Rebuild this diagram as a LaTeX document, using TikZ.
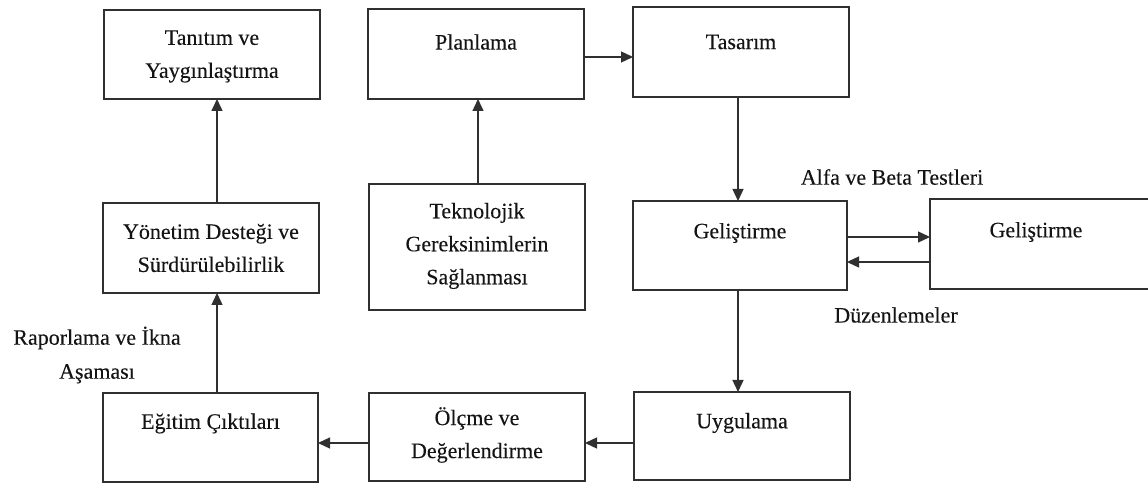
\documentclass[tikz,border=0pt]{standalone}
\usepackage{fontspec}
\setmainfont{Liberation Serif}
\newfontfamily\labelfont{Liberation Serif}[FakeBold=0.12]
\usetikzlibrary{arrows.meta}
\definecolor{ink}{HTML}{141414}
\definecolor{rule}{HTML}{303030}
\begin{document}
\begin{tikzpicture}[x=1pt,y=1pt,
  stagebox/.style={draw=rule, line width=1.4pt, rectangle, inner sep=0pt, outer sep=0pt, fill=white},
  stagetext/.style={text=ink, align=center, inner sep=0pt, font=\labelfont\fontsize{22}{33}\selectfont},
  sidetext/.style={text=ink, align=center, inner sep=0pt, font=\labelfont\fontsize{22}{34}\selectfont},
  flow/.style={draw=rule, line width=1.4pt, -{Triangle[length=12pt,width=11pt]}}]
  \clip (0,0) rectangle (1148,484);
  \fill[white] (0,0) rectangle (1148,484);

  % stage boxes
  \node[stagebox, minimum width=216pt, minimum height=89pt] (tan) at (212,429.5) {};
  \node[stagebox, minimum width=216pt, minimum height=90pt] (plan) at (476,430) {};
  \node[stagebox, minimum width=216pt, minimum height=90pt] (tas) at (741,432) {};
  \node[stagebox, minimum width=216pt, minimum height=90pt] (yon) at (211,236) {};
  \node[stagebox, minimum width=216pt, minimum height=126pt] (tek) at (477,237) {};
  \node[stagebox, minimum width=214pt, minimum height=89pt] (gel) at (740,238.5) {};
  \node[stagebox, minimum width=222pt, minimum height=90pt] (gelb) at (1041,240) {};
  \node[stagebox, minimum width=215pt, minimum height=89pt] (egi) at (210.5,46.5) {};
  \node[stagebox, minimum width=216pt, minimum height=88pt] (olc) at (477,47) {};
  \node[stagebox, minimum width=216pt, minimum height=88pt] (uyg) at (742,48) {};

  % box texts
  \node[stagetext] (tanT) at ([yshift=-2pt]tan.center) {Tanıtım ve\\Yaygınlaştırma};
  \node[stagetext] (planT) at ([yshift=12pt]plan.center) {Planlama};
  \node[stagetext] (tasT) at ([yshift=10pt]tas.center) {Tasarım};
  \node[stagetext] (yonT) at ([yshift=0pt]yon.center) {Yönetim Desteği ve\\Sürdürülebilirlik};
  \node[stagetext] (tekT) at ([yshift=1pt]tek.center) {Teknolojik\\Gereksinimlerin\\Sağlanması};
  \node[stagetext] (gelT) at ([yshift=12.5pt]gel.center) {Geliştirme};
  \node[stagetext] (gelbT) at ([xshift=-5pt,yshift=12pt]gelb.center) {Geliştirme};
  \node[stagetext] (egiT) at ([yshift=14pt]egi.center) {Eğitim Çıktıları};
  \node[stagetext] (olcT) at ([yshift=2pt]olc.center) {Ölçme ve\\Değerlendirme};
  \node[stagetext] (uygT) at ([yshift=13pt]uyg.center) {Uygulama};

  % free labels
  \node[sidetext] (alfa) at (892,307) {Alfa ve Beta Testleri};
  \node[sidetext] (duz) at (896,169) {Düzenlemeler};
  \node[sidetext] (rap) at (97,129) {Raporlama ve İkna\\Aşaması};

  % connectors
  \coordinate (pa) at ([yshift=-3pt]plan.east);
  \draw[flow] (pa) -- (tas.west |- pa);
  \coordinate (ta) at ([xshift=-3pt]tas.south);
  \draw[flow] (ta) -- (ta |- gel.north);
  \coordinate (gd) at ([xshift=-2pt]gel.south);
  \draw[flow] (gd) -- (gd |- uyg.north);
  \coordinate (gr) at ([yshift=8.5pt]gel.east);
  \draw[flow] (gr) -- (gelb.west |- gr);
  \coordinate (gl) at ([yshift=-18pt]gelb.west);
  \draw[flow] (gl) -- (gel.east |- gl);
  \coordinate (ul) at ([yshift=-7pt]uyg.west);
  \draw[flow] (ul) -- (olc.east |- ul);
  \coordinate (ol) at ([yshift=-6pt]olc.west);
  \draw[flow] (ol) -- (egi.east |- ol);
  \coordinate (eu) at ([xshift=6.5pt]egi.north);
  \draw[flow] (eu) -- (eu |- yon.south);
  \coordinate (yu) at ([xshift=6pt]yon.north);
  \draw[flow] (yu) -- (yu |- tan.south);
  \coordinate (tu) at ([xshift=1pt]tek.north);
  \draw[flow] (tu) -- (tu |- plan.south);
\end{tikzpicture}
\end{document}
